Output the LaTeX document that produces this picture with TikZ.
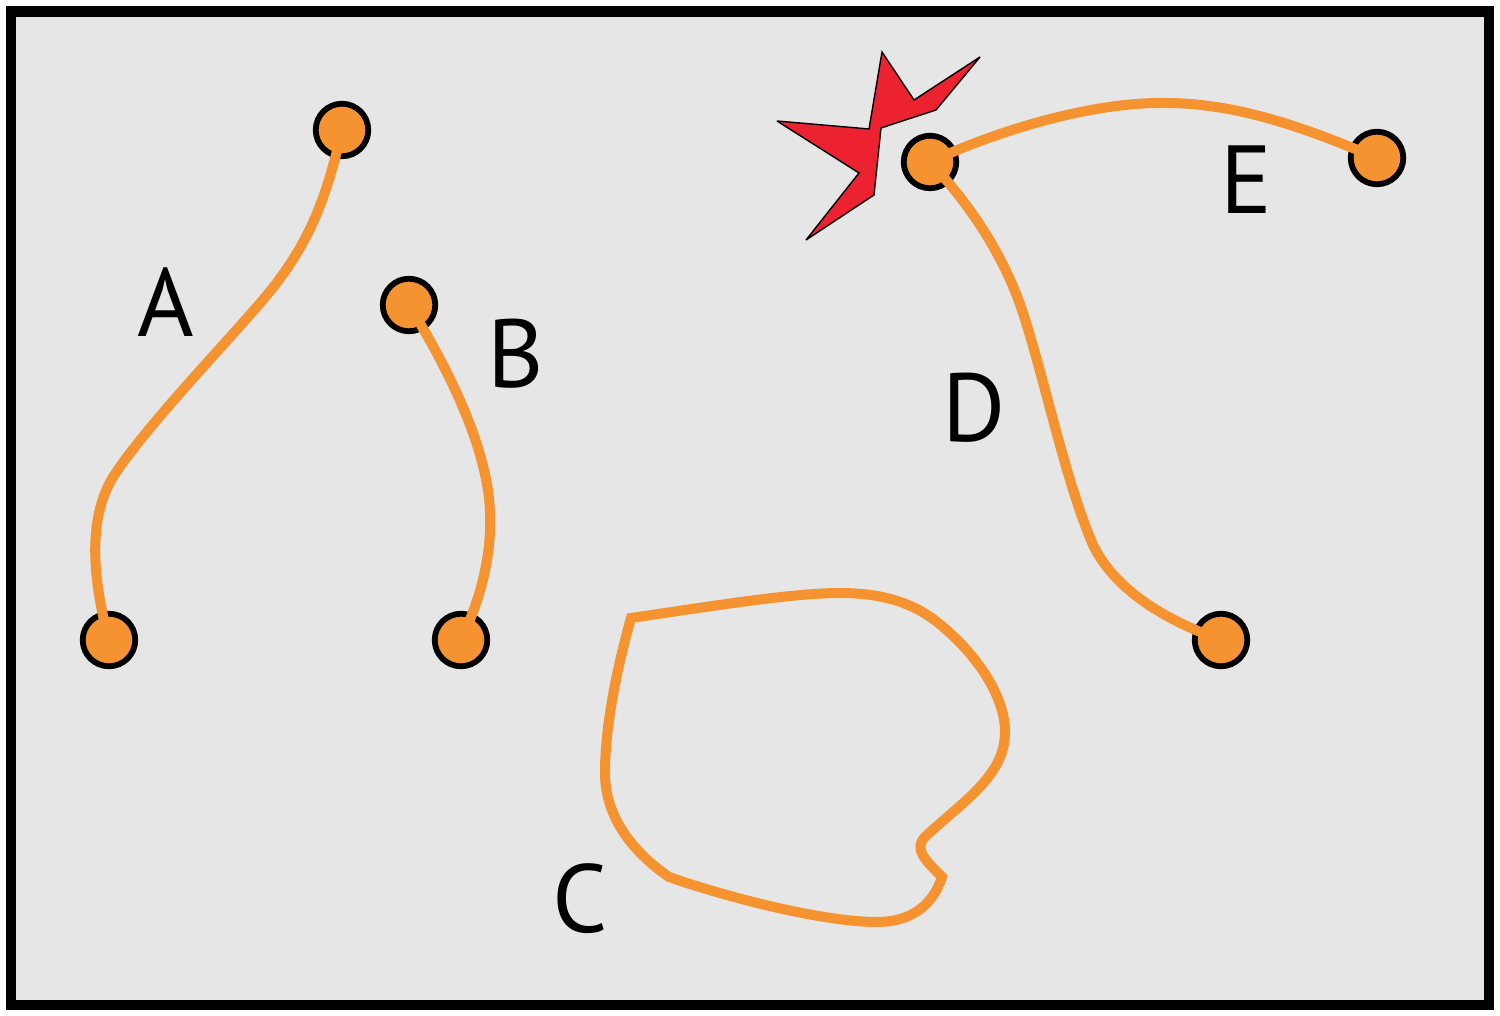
\documentclass[tikz,border=0pt]{standalone}
\usepackage{fontspec}
\setmainfont{PT Sans}
\definecolor{panelgray}{HTML}{E6E6E6}
\definecolor{wireorange}{HTML}{F69331}
\definecolor{burstred}{HTML}{ED2230}
\tikzset{
	pin/.style={circle, draw=black, fill=wireorange, line width=0.058cm, minimum size=0.525cm, inner sep=0pt},
	wire/.style={draw=wireorange, line width=0.1cm},
	letter/.style={anchor=base, inner sep=0pt, font=\fontsize{27.5}{27.5}\selectfont}
}
\begin{document}
\begin{tikzpicture}[x=0.01cm, y=-0.01cm]
		
		\useasboundingbox (0,0) rectangle (1500,1016);
		
		% Frame
		
		\draw[black, fill=panelgray, line width=0.105cm] (11,11.5) rectangle (1489,1005);
		
		% Burst
		
		\draw[black, fill=burstred, line width=0.014cm, miter limit=4]
		(882,52) -- (914,100) -- (980,57) -- (936,110) -- (881,128) -- (874,195)
		-- (806,240) -- (859,173) -- (777,121) -- (869,129) -- cycle;
		
		% Node
		
		\node[pin] (a1) at (342,130) {};
		\node[pin] (a2) at (109,640) {};
		\node[pin] (b1) at (409,305) {};
		\node[pin] (b2) at (461,640) {};
		\node[pin] (d1) at (930,162) {};
		\node[pin] (d2) at (1221,640) {};
		\node[pin] (e2) at (1377,158) {};
		
		% EDGE
		
		\draw[wire] (a1.center) .. controls (325,205) and (307,243) .. (275,285)
		.. controls (245,324) and (150,420) .. (113,477)
		.. controls (90,515) and (90,570) .. (a2.center);
		\draw[wire] (b1.center) .. controls (455,380) and (480,440) .. (488,490)
		.. controls (495,540) and (485,590) .. (b2.center);
		\draw[wire] (d1.center) .. controls (975,210) and (1005,260) .. (1022,310)
		.. controls (1045,380) and (1065,480) .. (1093,545)
		.. controls (1115,590) and (1165,620) .. (d2.center);
		\draw[wire] (d1.center) .. controls (1010,125) and (1100,102) .. (1165,103)
		.. controls (1240,103) and (1310,130) .. (e2.center);
		
		% Loop
		
		\draw[wire] (631,618) .. controls (700,608) and (790,593) .. (840,593)
		.. controls (880,593) and (912,602) .. (937,622)
		.. controls (975,652) and (1005,695) .. (1005,732)
		.. controls (1005,775) and (965,800) .. (927,835)
		.. controls (912,848) and (925,860) .. (942,877)
		.. controls (932,908) and (908,922) .. (877,922)
		.. controls (820,922) and (720,895) .. (669,877)
		.. controls (630,850) and (605,815) .. (605,773)
		.. controls (605,730) and (615,675) .. (631,618) -- cycle;
		
		% Labels
		
		\node[letter] (labelA) at (166,337) {A};
		\node[letter] (labelB) at (516,388) {B};
		\node[letter] (labelC) at (580,932) {C};
		\node[letter] (labelD) at (974,442) {D};
		\node[letter] (labelE) at (1246,214) {E};
		
	\end{tikzpicture}
\end{document}
